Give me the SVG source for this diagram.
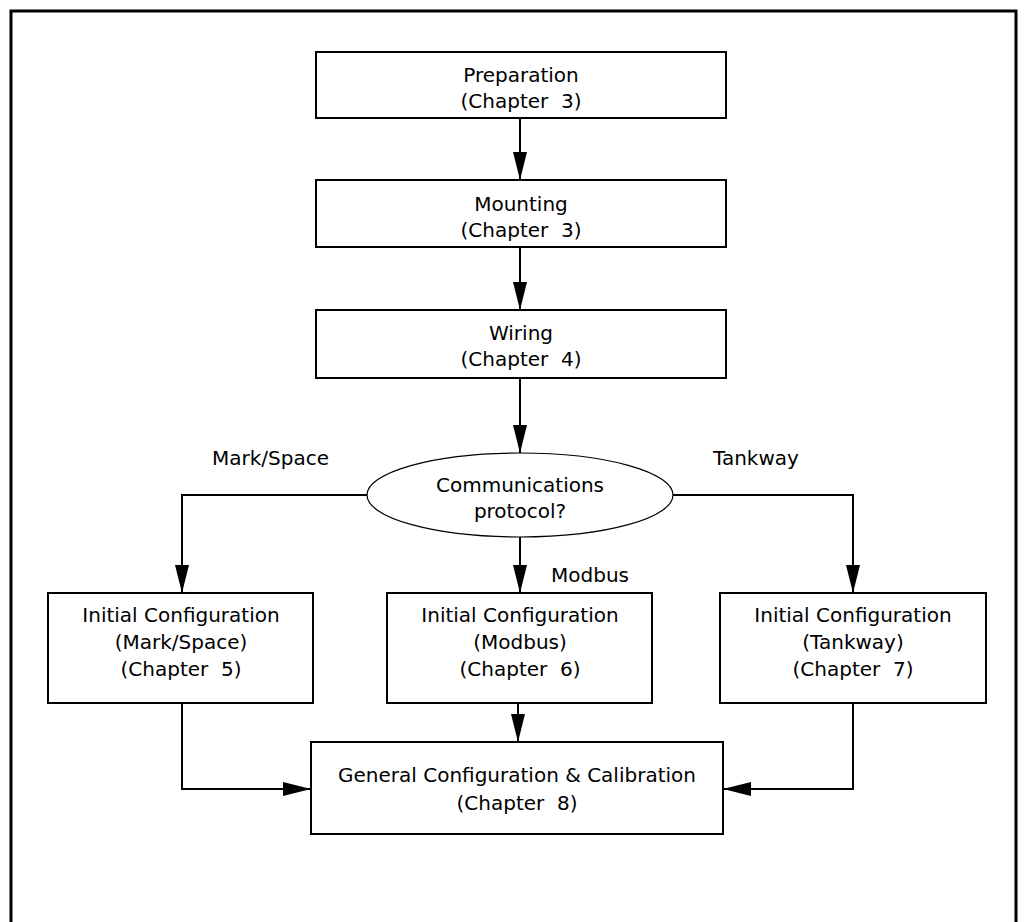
<svg xmlns="http://www.w3.org/2000/svg" width="1027" height="922" viewBox="0 0 1027 922">
<defs>
<style>
.box{fill:#fff;stroke:#000;stroke-width:2}
.frame{fill:none;stroke:#000;stroke-width:3}
.con{fill:none;stroke:#000;stroke-width:2}
text{font-family:"DejaVu Sans","Liberation Sans",sans-serif;font-size:20px;fill:#000;white-space:pre}
.c{text-anchor:middle}
</style>
<marker id="ah" viewBox="0 0 28 14" refX="28" refY="7" markerWidth="28" markerHeight="14" markerUnits="userSpaceOnUse" orient="auto">
<path d="M0,0 L28,7 L0,14 Z" fill="#000"/>
</marker>
</defs>
<rect width="1027" height="922" fill="#fff"/>
<path class="frame" d="M11,930 L11,11 L1016,11 L1016,930"/>
<g id="connectors">
<line class="con" x1="520" y1="118" x2="520" y2="180" marker-end="url(#ah)"/>
<line class="con" x1="520" y1="247" x2="520" y2="310" marker-end="url(#ah)"/>
<line class="con" x1="520" y1="378" x2="520" y2="453" marker-end="url(#ah)"/>
<polyline class="con" points="367,495 182,495 182,593" marker-end="url(#ah)"/>
<polyline class="con" points="672,495 853,495 853,593" marker-end="url(#ah)"/>
<line class="con" x1="520" y1="537" x2="520" y2="593" marker-end="url(#ah)"/>
<line class="con" x1="518" y1="703" x2="518" y2="742" marker-end="url(#ah)"/>
<polyline class="con" points="182,703 182,789 311,789" marker-end="url(#ah)"/>
<polyline class="con" points="853,703 853,789 723,789" marker-end="url(#ah)"/>
<text x="212" y="465">Mark/Space</text>
<text x="713" y="465">Tankway</text>
<text x="551" y="582">Modbus</text>
</g>
<g id="n1"><rect class="box" x="316" y="52" width="410" height="66"/>
<text class="c" x="521" y="82">Preparation</text><text class="c" x="521" y="108">(Chapter  3)</text></g>
<g id="n2"><rect class="box" x="316" y="180" width="410" height="67"/>
<text class="c" x="521" y="211">Mounting</text><text class="c" x="521" y="237">(Chapter  3)</text></g>
<g id="n3"><rect class="box" x="316" y="310" width="410" height="68"/>
<text class="c" x="521" y="340">Wiring</text><text class="c" x="521" y="366">(Chapter  4)</text></g>
<g id="n4"><ellipse cx="520" cy="495" rx="153" ry="42" fill="#fff" stroke="#000" stroke-width="1.2"/>
<text class="c" x="520" y="492">Communications</text><text class="c" x="520" y="518">protocol?</text></g>
<g id="n5"><rect class="box" x="48" y="593" width="265" height="110"/>
<text class="c" x="181" y="622">Initial Configuration</text><text class="c" x="181" y="649">(Mark/Space)</text><text class="c" x="181" y="676">(Chapter  5)</text></g>
<g id="n6"><rect class="box" x="387" y="593" width="265" height="110"/>
<text class="c" x="520" y="622">Initial Configuration</text><text class="c" x="520" y="649">(Modbus)</text><text class="c" x="520" y="676">(Chapter  6)</text></g>
<g id="n7"><rect class="box" x="720" y="593" width="266" height="110"/>
<text class="c" x="853" y="622">Initial Configuration</text><text class="c" x="853" y="649">(Tankway)</text><text class="c" x="853" y="676">(Chapter  7)</text></g>
<g id="n8"><rect class="box" x="311" y="742" width="412" height="92"/>
<text class="c" x="517" y="782">General Configuration &amp; Calibration</text><text class="c" x="517" y="810">(Chapter  8)</text></g>
</svg>
